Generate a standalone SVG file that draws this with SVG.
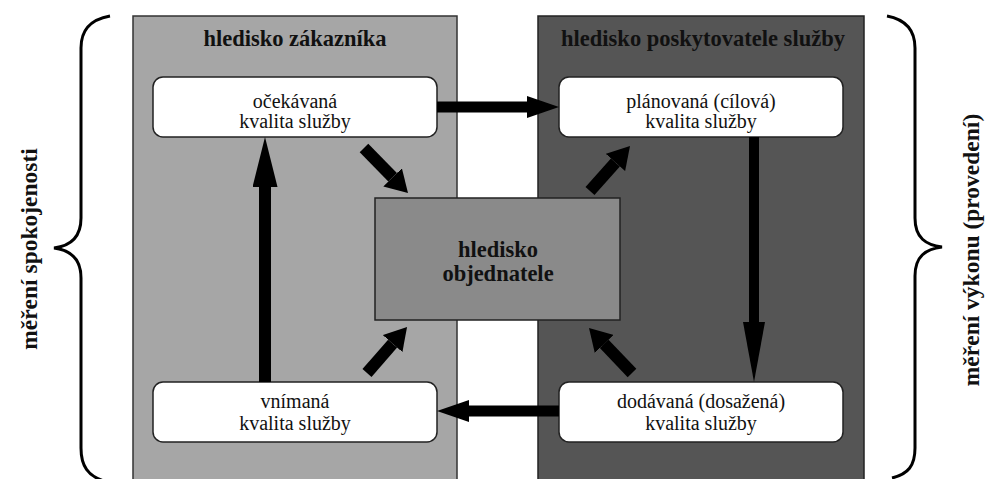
<svg xmlns="http://www.w3.org/2000/svg" width="987" height="479" viewBox="0 0 987 479">
  <style>
    .panel-light { fill: #a6a6a6; stroke: #333; stroke-width: 1.5; }
    .panel-dark { fill: #555555; stroke: #222; stroke-width: 1.5; }
    .center { fill: #8a8a8a; stroke: #222; stroke-width: 1.5; }
    .box { fill: #ffffff; stroke: #222; stroke-width: 1.5; }
    .t { font-family: "Liberation Serif", "Times New Roman", serif; font-size: 20px; fill: #111; text-anchor: middle; }
    .b { font-family: "Liberation Serif", "Times New Roman", serif; font-size: 22.5px; font-weight: bold; fill: #111; text-anchor: middle; }
    .lbl { font-size: 23.5px; }
    .arrow { stroke: #000; fill: none; stroke-linecap: butt; }
    .brace { stroke: #000; fill: none; stroke-width: 3; }
  </style>
  <defs>
    <marker id="hH" markerUnits="userSpaceOnUse" viewBox="0 0 32 22" markerWidth="32" markerHeight="22" refX="0" refY="11" orient="auto">
      <path d="M0,0 L32,11 L0,22 z" fill="#000"/>
    </marker>
    <marker id="hV" markerUnits="userSpaceOnUse" viewBox="0 0 50 25" markerWidth="50" markerHeight="25" refX="0" refY="12.5" orient="auto">
      <path d="M0,0 L50,12.5 L0,25 z" fill="#000"/>
    </marker>
    <marker id="hV2" markerUnits="userSpaceOnUse" viewBox="0 0 60 22" markerWidth="60" markerHeight="22" refX="0" refY="11" orient="auto">
      <path d="M0,0 L60,11 L0,22 z" fill="#000"/>
    </marker>
    <marker id="hD" markerUnits="userSpaceOnUse" viewBox="0 0 22 26" markerWidth="22" markerHeight="26" refX="0" refY="13" orient="auto">
      <path d="M0,0 L22,13 L0,26 z" fill="#000"/>
    </marker>
  </defs>

  <rect width="987" height="479" fill="#ffffff"/>

  <g id="panel-customer">
    <rect class="panel-light" x="133" y="16" width="324" height="480"/>
    <text class="b" x="295" y="46">hledisko zákazníka</text>
  </g>
  <g id="panel-provider">
    <rect class="panel-dark" x="538" y="16" width="326" height="480"/>
    <text class="b" x="703" y="46">hledisko poskytovatele služby</text>
  </g>

  <g id="brace-left">
    <path class="brace" d="M110,16 C88,20 81,32 81,48 L81,218 C81,238 70,246 54,248 C70,250 81,258 81,278 L81,448 C81,466 88,476 104,481"/>
    <text class="b lbl" transform="translate(37,249) rotate(-90)">měření spokojenosti</text>
  </g>
  <g id="brace-right">
    <path class="brace" d="M887,16 C908,20 915,32 915,48 L915,218 C915,238 926,245 942,247 C926,249 915,256 915,276 L915,448 C915,466 908,474 892,478"/>
    <text class="b lbl" transform="translate(979,250) rotate(-90)">měření výkonu (provedení)</text>
  </g>

  <g id="node-objednatel">
    <rect class="center" x="375" y="198" width="245" height="122"/>
    <text class="b" x="498" y="257">hledisko</text>
    <text class="b" x="498" y="281">objednatele</text>
  </g>

  <g id="node-ocekavana">
    <rect class="box" x="153" y="77" width="284" height="60" rx="10"/>
    <text class="t" x="295" y="108">očekávaná</text>
    <text class="t" x="295" y="128">kvalita služby</text>
  </g>
  <g id="node-planovana">
    <rect class="box" x="559" y="77" width="284" height="60" rx="10"/>
    <text class="t" x="701" y="108">plánovaná (cílová)</text>
    <text class="t" x="701" y="128">kvalita služby</text>
  </g>
  <g id="node-vnimana">
    <rect class="box" x="153" y="382" width="284" height="60" rx="10"/>
    <text class="t" x="295" y="408">vnímaná</text>
    <text class="t" x="295" y="430">kvalita služby</text>
  </g>
  <g id="node-dodavana">
    <rect class="box" x="559" y="382" width="284" height="60" rx="10"/>
    <text class="t" x="701" y="408">dodávaná (dosažená)</text>
    <text class="t" x="701" y="430">kvalita služby</text>
  </g>

  <g id="connectors">
    <line class="arrow" stroke-width="11" x1="437" y1="107" x2="527" y2="107" marker-end="url(#hH)"/>
    <line class="arrow" stroke-width="11" x1="559" y1="411" x2="469" y2="411" marker-end="url(#hH)"/>
    <line class="arrow" stroke-width="12" x1="265" y1="382" x2="265" y2="187" marker-end="url(#hV)"/>
    <line class="arrow" stroke-width="10" x1="754" y1="137" x2="754" y2="322" marker-end="url(#hV2)"/>
    <line class="arrow" stroke-width="12" x1="364" y1="148" x2="392.6" y2="177.3" marker-end="url(#hD)"/>
    <line class="arrow" stroke-width="12" x1="590" y1="191" x2="615.4" y2="162.4" marker-end="url(#hD)"/>
    <line class="arrow" stroke-width="12" x1="367" y1="373" x2="392.6" y2="343.6" marker-end="url(#hD)"/>
    <line class="arrow" stroke-width="12" x1="632" y1="373" x2="604.2" y2="343.9" marker-end="url(#hD)"/>
  </g>
</svg>
